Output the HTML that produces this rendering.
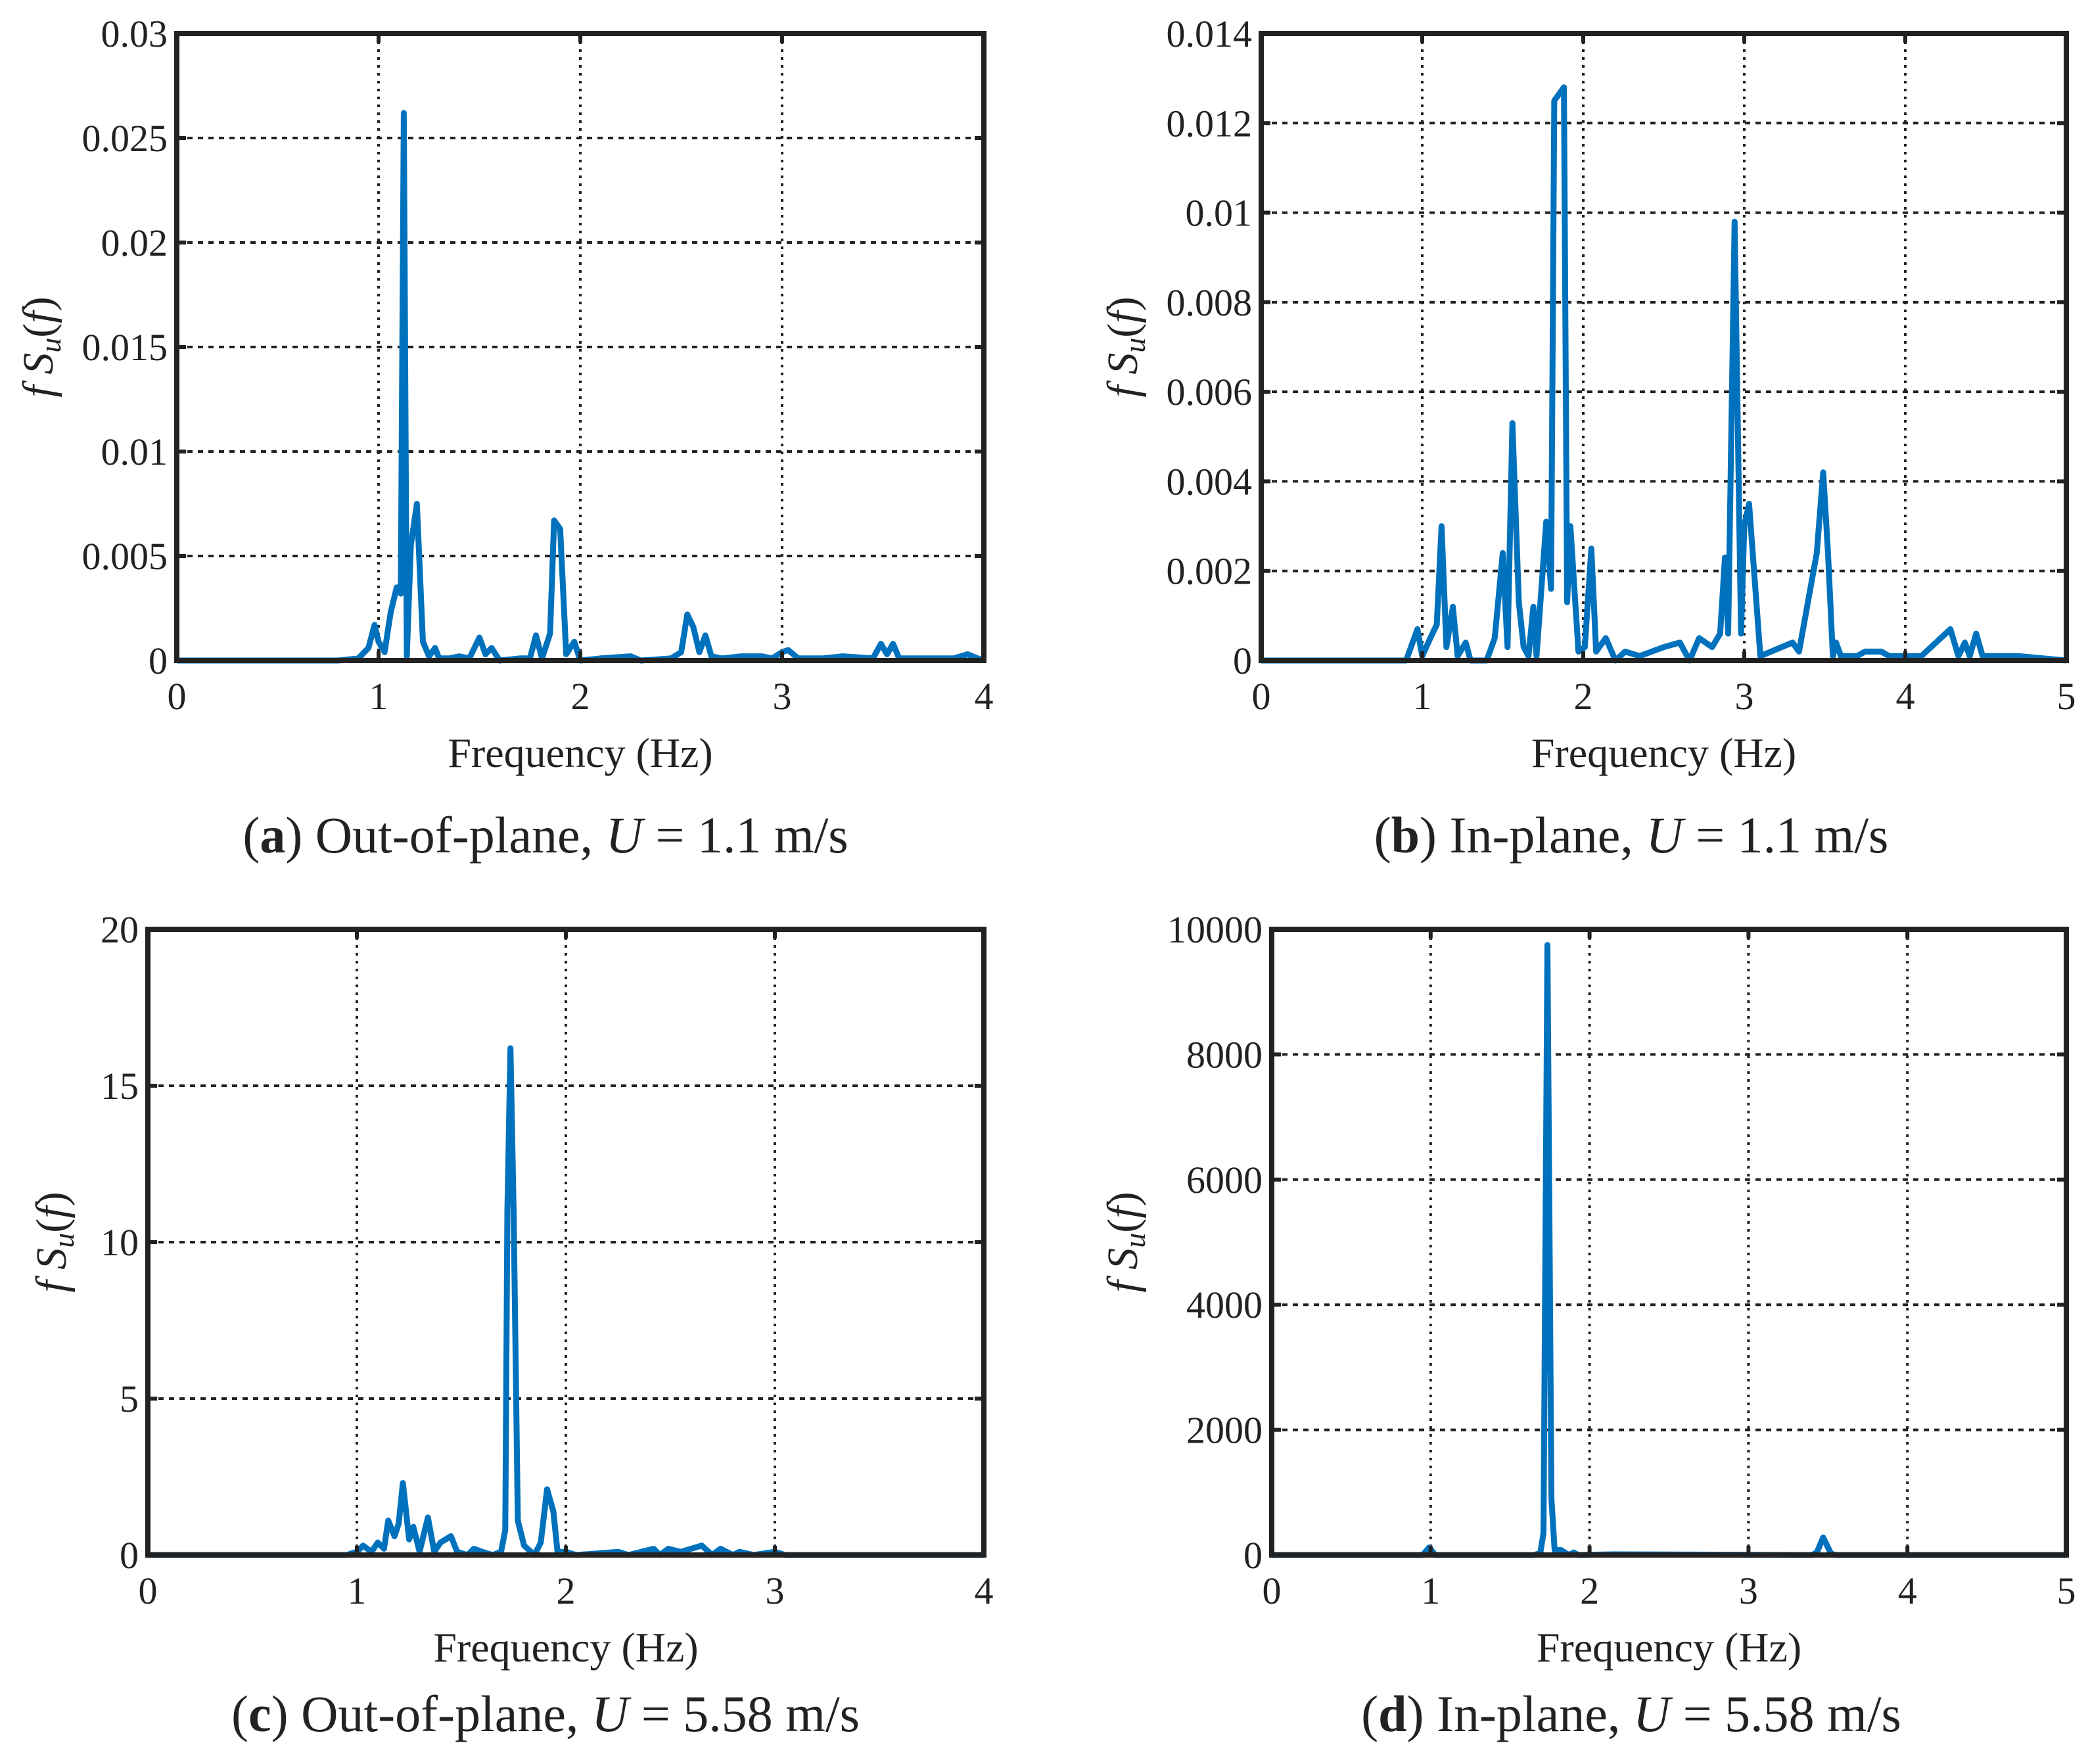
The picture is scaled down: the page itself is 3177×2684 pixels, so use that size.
<!DOCTYPE html>
<html><head><meta charset="utf-8"><style>
html,body{margin:0;padding:0;background:#fff;}
svg{display:block;}
text{font-family:"Liberation Serif",serif;fill:#222;}
</style></head><body>
<svg id="fig" width="3177" height="2684" viewBox="0 0 3177 2684" xmlns="http://www.w3.org/2000/svg"></svg>
<script>
// Panel (a)
const aFreq=[0,0.8,0.9,0.95,0.98,1.0,1.03,1.06,1.09,1.11,1.125,1.14,1.16,1.19,1.22,1.25,1.28,1.3,1.35,1.4,1.45,1.5,1.53,1.56,1.6,1.7,1.75,1.78,1.81,1.85,1.87,1.9,1.93,1.97,2.0,2.1,2.25,2.3,2.45,2.5,2.53,2.56,2.59,2.62,2.65,2.7,2.8,2.9,2.95,3.0,3.03,3.08,3.2,3.3,3.45,3.49,3.52,3.55,3.58,3.7,3.85,3.92,3.97,4.0];
const aVal=[0,0,0.0001,0.0006,0.0017,0.0009,0.0004,0.0023,0.0035,0.0032,0.0262,0.0002,0.0055,0.0075,0.0009,0.0002,0.0006,0.0001,0.0001,0.0002,0.0001,0.0011,0.0003,0.0006,0,0.0001,0.0001,0.0012,0.0001,0.0013,0.0067,0.0063,0.0003,0.0009,0,0.0001,0.0002,0,0.0001,0.0004,0.0022,0.0016,0.0004,0.0012,0.0002,0.0001,0.0002,0.0002,0.0001,0.0004,0.0005,0.0001,0.0001,0.0002,0.0001,0.0008,0.0003,0.0008,0.0001,0.0001,0.0001,0.0003,0.0001,0];
const aXTicks=["0","1","2","3","4"];
const aYTicks=["0","0.005","0.01","0.015","0.02","0.025","0.03"];
// Panel (b)
const bFreq=[0,0.9,0.97,1.0,1.05,1.09,1.12,1.15,1.19,1.22,1.27,1.3,1.4,1.45,1.5,1.53,1.56,1.6,1.63,1.66,1.69,1.71,1.74,1.77,1.8,1.82,1.88,1.9,1.92,1.97,2.01,2.05,2.08,2.14,2.2,2.26,2.35,2.5,2.6,2.66,2.72,2.8,2.85,2.88,2.9,2.94,2.98,3.0,3.03,3.1,3.3,3.34,3.45,3.49,3.52,3.55,3.57,3.6,3.7,3.75,3.85,3.9,4.1,4.28,4.33,4.37,4.4,4.44,4.48,4.7,5.0];
const bVal=[0,0,0.0007,0.0001,0.0005,0.0008,0.003,0.0003,0.0012,0.0001,0.0004,0,0,0.0005,0.0024,0.0003,0.0053,0.0013,0.0003,0.0001,0.0012,0.0001,0.0016,0.0031,0.0016,0.0125,0.0128,0.0013,0.003,0.0002,0.0003,0.0025,0.0002,0.0005,0,0.0002,0.0001,0.0003,0.0004,0,0.0005,0.0003,0.0006,0.0023,0.0006,0.0098,0.0006,0.003,0.0035,0.0001,0.0004,0.0002,0.0024,0.0042,0.0024,0.0001,0.0004,0.0001,0.0001,0.0002,0.0002,0.0001,0.0001,0.0007,0.0001,0.0004,0.0001,0.0006,0.0001,0.0001,0];
const bXTicks=["0","1","2","3","4","5"];
const bYTicks=["0","0.002","0.004","0.006","0.008","0.01","0.012","0.014"];
// Panel (c)
const cFreq=[0,0.95,1.0,1.03,1.07,1.1,1.13,1.15,1.18,1.2,1.22,1.25,1.27,1.3,1.34,1.37,1.4,1.45,1.48,1.53,1.56,1.6,1.65,1.69,1.71,1.72,1.735,1.75,1.77,1.8,1.85,1.88,1.91,1.94,1.96,2.0,2.05,2.25,2.3,2.42,2.45,2.49,2.55,2.65,2.7,2.74,2.8,2.83,2.9,3.0,3.05,4.0];
const cVal=[0,0,0.1,0.3,0.1,0.4,0.2,1.1,0.6,1.0,2.3,0.5,0.9,0.1,1.2,0.1,0.4,0.6,0.1,0,0.2,0.1,0,0.1,0.8,11,16.2,11,1.1,0.3,0,0.4,2.1,1.4,0.1,0.1,0,0.1,0,0.2,0,0.2,0.1,0.3,0,0.2,0,0.1,0,0.1,0,0];
const cXTicks=["0","1","2","3","4"];
const cYTicks=["0","5","10","15","20"];
// Panel (d)
const dFreq=[0,0.95,0.99,1.03,1.65,1.69,1.71,1.735,1.76,1.78,1.82,1.87,1.9,1.93,2.15,3.4,3.43,3.47,3.52,3.55,5.0];
const dVal=[0,0,120,0,0,30,350,9750,900,80,80,0,40,0,10,0,40,280,20,0,0];
const dXTicks=["0","1","2","3","4","5"];
const dYTicks=["0","2000","4000","6000","8000","10000"];

const NS="http://www.w3.org/2000/svg";
const svg=document.getElementById('fig');
function mk(tag,attrs,parent){const e=document.createElementNS(NS,tag);for(const k in attrs)e.setAttribute(k,attrs[k]);(parent||svg).appendChild(e);return e;}

function panel(id,L,R,T,B,xmax,ymax,xt,yt,fr,vals,ylx,caption){
  const g=mk('g',{});
  
  
  const xs=v=>L+(v/xmax)*(R-L);
  const ys=v=>B-(v/ymax)*(B-T);
  xt.forEach(t=>{const v=parseFloat(t);if(v<=0||v>=xmax)return;
    const l=mk('line',{x1:xs(v),x2:xs(v),y1:T,y2:B,stroke:'#222','stroke-width':4,'stroke-dasharray':'4 8'},g);
    
    });
  yt.forEach(t=>{const v=parseFloat(t);if(v<=0||v>=ymax)return;
    const l=mk('line',{x1:L,x2:R,y1:ys(v),y2:ys(v),stroke:'#222','stroke-width':4,'stroke-dasharray':'8 8'},g);
    
    });
  const pts=fr.map((f,i)=>xs(f).toFixed(1)+','+ys(vals[i]).toFixed(1)).join(' ');
  const pl=mk('polyline',{points:pts,fill:'none',stroke:'#0072BD','stroke-width':9,'stroke-linejoin':'round'},g);
  
  
  const bx=mk('rect',{x:L,y:T,width:R-L,height:B-T,fill:'none',stroke:'#222','stroke-width':8},g);
  
  
  xt.forEach(t=>{const v=parseFloat(t);
    mk('line',{x1:xs(v),x2:xs(v),y1:B,y2:B-14,stroke:'#222','stroke-width':6},g);
    mk('line',{x1:xs(v),x2:xs(v),y1:T,y2:T+14,stroke:'#222','stroke-width':6},g);
    const tx=mk('text',{x:xs(v),y:B+74,'font-size':58,'text-anchor':'middle'},g);tx.textContent=t;
    
    });
  yt.forEach(t=>{const v=parseFloat(t);
    mk('line',{x1:L,x2:L+14,y1:ys(v),y2:ys(v),stroke:'#222','stroke-width':6},g);
    mk('line',{x1:R,x2:R-14,y1:ys(v),y2:ys(v),stroke:'#222','stroke-width':6},g);
    const tx=mk('text',{x:L-14,y:ys(v)+20,'font-size':58,'text-anchor':'end'},g);tx.textContent=t;
    
    });
  const xl=mk('text',{x:(L+R)/2,y:B+162,'font-size':64,'text-anchor':'middle'},g);xl.textContent='Frequency (Hz)';
  
  
  const cy=(T+B)/2;
  const yl=mk('text',{x:ylx,y:cy,'font-size':66,'text-anchor':'middle','font-style':'italic',transform:`rotate(-90 ${ylx} ${cy})`},g);
  yl.innerHTML='f S<tspan font-size="46" dy="12">u</tspan><tspan dy="-12" font-style="normal">(</tspan>f<tspan font-style="normal">)</tspan>';
  
  
  const cap=mk('text',{x:caption[0],y:caption[1],'font-size':78,'text-anchor':'middle'},g);
  cap.innerHTML='(<tspan font-weight="bold">'+id+'</tspan>) '+caption[2]+',  <tspan font-style="italic">U</tspan> =  '+caption[3]+' m/s';
  
  
}
panel('a',269,1497,51,1005,4,0.03,aXTicks,aYTicks,aFreq,aVal,80,[830,1297,'Out-of-plane','1.1']);
panel('b',1919,3144,51,1005,5,0.014,bXTicks,bYTicks,bFreq,bVal,1730,[2482,1297,'In-plane','1.1']);
panel('c',225,1497,1414,2366,4,20,cXTicks,cYTicks,cFreq,cVal,100,[830,2634,'Out-of-plane','5.58']);
panel('d',1935,3144,1414,2366,5,10000,dXTicks,dYTicks,dFreq,dVal,1730,[2482,2634,'In-plane','5.58']);
</script>
</body></html>
